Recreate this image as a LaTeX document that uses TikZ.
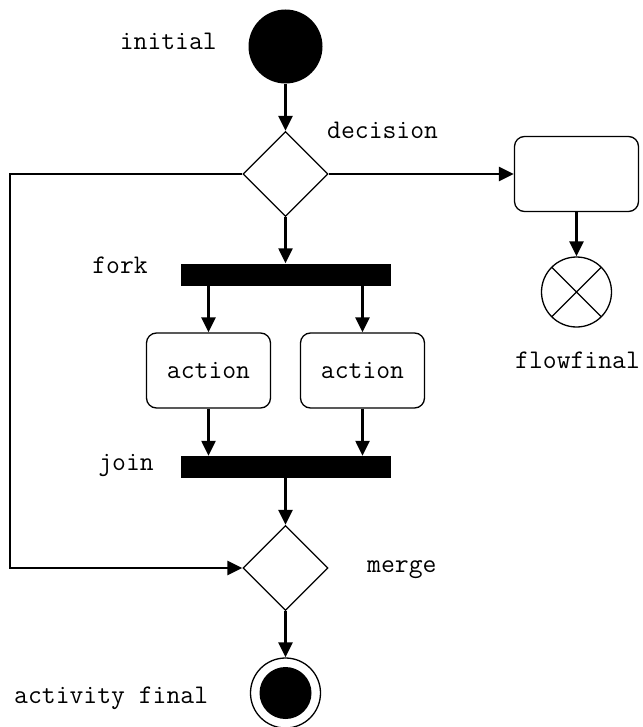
\documentclass[tikz,border=0pt]{standalone}
\usepackage{fontspec}
\usetikzlibrary{shapes.geometric, arrows.meta}
\tikzstyle{start state}=[
        circle,
        fill = black,
        inner sep = 0pt,
        minimum size = 74pt
    ]
\tikzstyle{end state}=[
        circle,
        draw,
        line width = 1.3pt,
        inner sep = 0pt,
        minimum size = 70pt,
        path picture = {\fill (path picture bounding box.center) circle (26pt);}
    ]
\tikzstyle{flow end}=[
        circle,
        draw,
        line width = 1.3pt,
        inner sep = 0pt,
        minimum size = 70pt,
        path picture = {\draw (path picture bounding box.south west) -- (path picture bounding box.north east)
                              (path picture bounding box.north west) -- (path picture bounding box.south east);}
    ]
\tikzstyle{branch}=[
        diamond,
        draw,
        line width = 1.3pt,
        inner sep = 0pt,
        minimum size = 85pt
    ]
\tikzstyle{bar}=[
        rectangle,
        fill = black,
        inner sep = 0pt,
        minimum width = 210pt,
        minimum height = 22pt
    ]
\tikzstyle{activity}=[
        rectangle,
        rounded corners = 10pt,
        draw,
        line width = 1.3pt,
        minimum width = 124pt,
        minimum height = 75pt
    ]

\begin{document}
\begin{tikzpicture}[x=1pt, y=-1pt, flow/.style = {->, line width=2.4pt},
        >={Triangle[width=14pt, length=15pt]},
        tag/.style = {inner sep=0pt},
        every node/.style = {font=\ttfamily\fontsize{26.9}{32}\selectfont}]
        \useasboundingbox (0,0) rectangle (642,727);

        \node[start state] (init) at (285.5,46.5) {};
        \node[branch] (dec) [below of = init, node distance = 127.5pt] {};
        \node[bar] (fork) [below of = dec, node distance = 100.5pt] {};
        \node[activity] (act1) [below of = fork, node distance = 96pt, xshift = -77pt] {action};
        \node[activity] (act2) [below of = fork, node distance = 96pt, xshift = 77pt] {action};
        \node[bar] (join) [below of = fork, node distance = 192.5pt] {};
        \node[branch] (merge) [below of = join, node distance = 101pt] {};
        \node[end state] (final) [below of = merge, node distance = 125pt] {};
        \node[activity] (box) [right of = dec, node distance = 291pt] {};
        \node[flow end] (flowend) [below of = box, node distance = 118pt] {};
        \coordinate (corner) at (10,174);

        \node[tag, anchor = base east] (initlbl) at (217,50) {initial};
        \node[tag, anchor = base west] (declbl) at (327,139) {decision};
        \node[tag, anchor = base east] (forklbl) at (148,273) {fork};
        \node[tag, anchor = base east] (joinlbl) at (154,470) {join};
        \node[tag, anchor = base west] (mergelbl) at (367,572) {merge};
        \node[tag, anchor = base west] (flowlbl) at (515,368) {flowfinal};
        \node[tag, anchor = base west] (finallbl) at (14,703) {activity final};

        \draw[flow] (init) -- (dec);
        \draw[flow] (dec) -- (fork);
        \draw[flow] (dec) -- (box);
        \draw[flow] (box) -- (flowend);
        \draw[flow] (act1 |- fork.south) -- (act1);
        \draw[flow] (act2 |- fork.south) -- (act2);
        \draw[flow] (act1) -- (act1 |- join.north);
        \draw[flow] (act2) -- (act2 |- join.north);
        \draw[flow] (join) -- (merge);
        \draw[flow] (merge) -- (final);
        \draw[flow] (dec.west) -- (corner) |- (merge.west);
    \end{tikzpicture}
\end{document}
